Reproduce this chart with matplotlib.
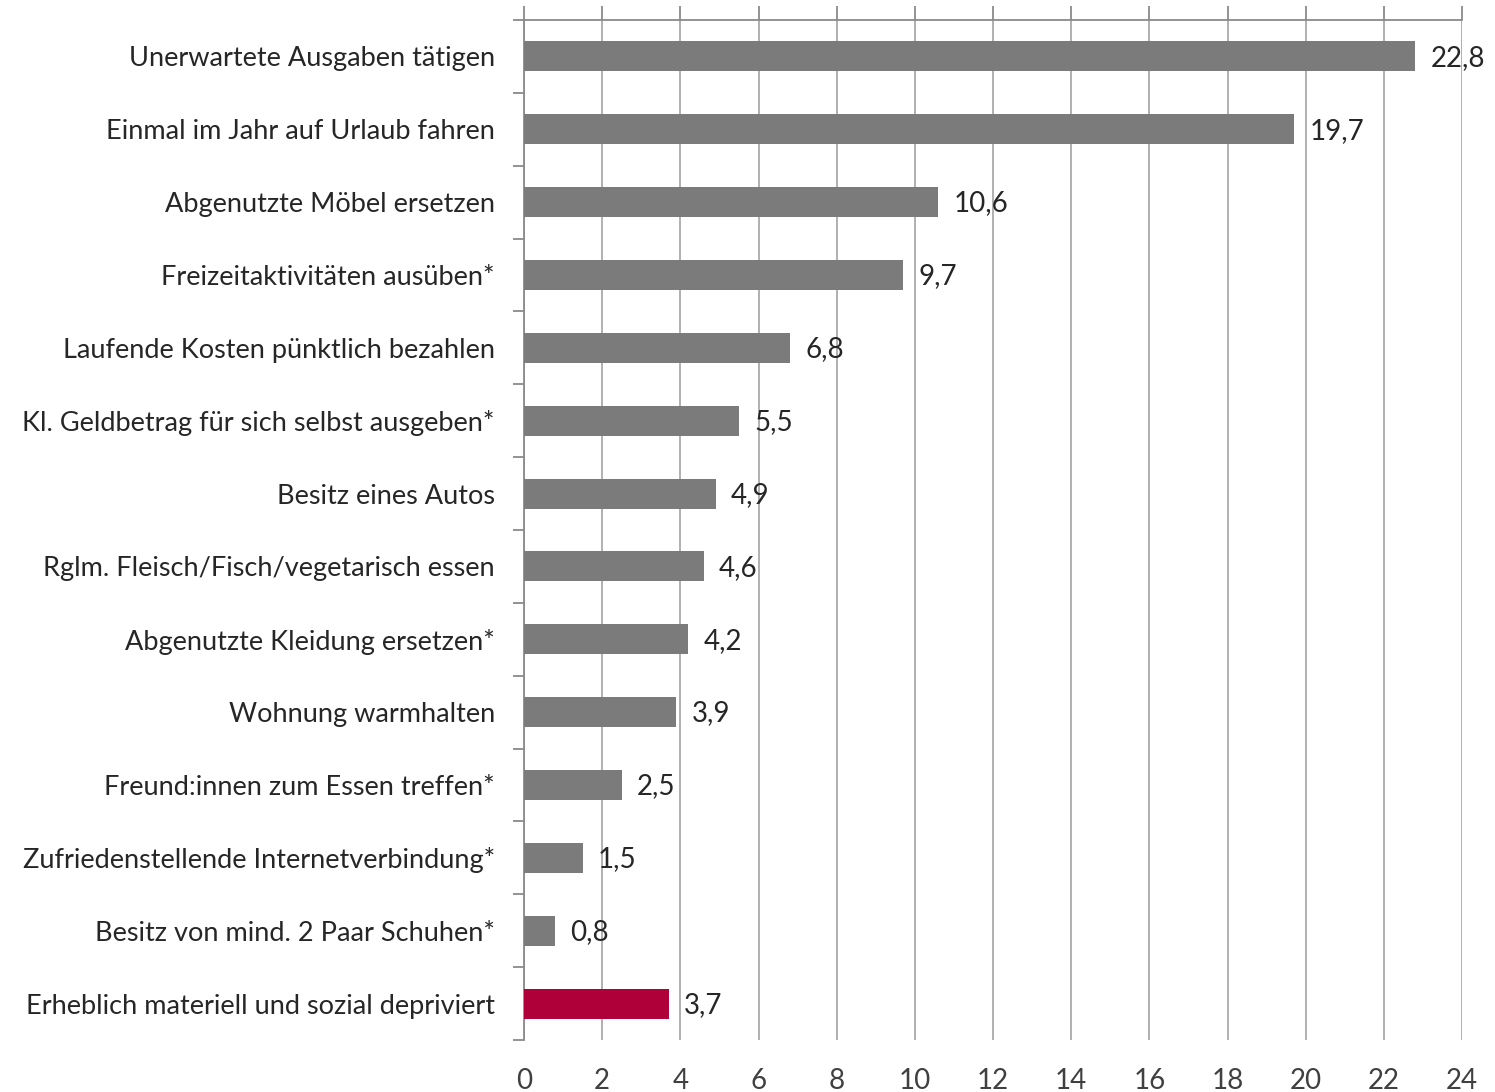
import matplotlib
matplotlib.use("Agg")
import matplotlib.pyplot as plt
import numpy as np

categories = [
    "Unerwartete Ausgaben tätigen",
    "Einmal im Jahr auf Urlaub fahren",
    "Abgenutzte Möbel ersetzen",
    "Freizeitaktivitäten ausüben*",
    "Laufende Kosten pünktlich bezahlen",
    "Kl. Geldbetrag für sich selbst ausgeben*",
    "Besitz eines Autos",
    "Rglm. Fleisch/Fisch/vegetarisch essen",
    "Abgenutzte Kleidung ersetzen*",
    "Wohnung warmhalten",
    "Freund:innen zum Essen treffen*",
    "Zufriedenstellende Internetverbindung*",
    "Besitz von mind. 2 Paar Schuhen*",
    "Erheblich materiell und sozial depriviert",
]
values = [22.8, 19.7, 10.6, 9.7, 6.8, 5.5, 4.9, 4.6, 4.2, 3.9, 2.5, 1.5, 0.8, 3.7]
x_ticks = [0, 2, 4, 6, 8, 10, 12, 14, 16, 18, 20, 22, 24]

plt.rcParams['font.family'] = ['Lato', 'DejaVu Sans']

fig = plt.figure(figsize=(14.95, 10.92), dpi=100)
ax = fig.add_axes([0.3505, 0.0476, 0.978 - 0.3505, 0.9817 - 0.0476])

n = len(categories)
y = np.arange(n)
colors = ['#7b7b7b'] * (n - 1) + ['#b0003a']
ax.barh(y, values, height=0.41, color=colors, zorder=3)

ax.set_ylim(n - 0.5, -0.5)
ax.set_xlim(0, 24)

for yi, v in zip(y, values):
    ax.annotate(f"{v:.1f}".replace('.', ','), xy=(v, yi), xytext=(11, -1),
                textcoords='offset points', va='center', ha='left',
                fontsize=20, color='#262626', zorder=4)

ax.set_yticks(y)
ax.set_yticklabels(categories, fontsize=19.5, color='#262626')
ax.tick_params(axis='y', which='major', length=0, pad=21)
ax.set_yticks(np.arange(-0.5, n, 1), minor=True)
ax.tick_params(axis='y', which='minor', length=8, width=1.3, color='#8a8a8a', direction='out')

ax.set_xticks(x_ticks)
ax.set_xticklabels([str(t) for t in x_ticks], fontsize=20, color='#404040')
ax.tick_params(axis='x', which='major', bottom=True, top=False, labelbottom=True,
               labeltop=False, length=0, pad=20)

ax.grid(axis='x', color='#aaaaaa', linewidth=1.3, zorder=0)
ax.grid(axis='y', visible=False)

for s in ['right', 'bottom']:
    ax.spines[s].set_visible(False)
for s in ['top', 'left']:
    ax.spines[s].set_color('#8a8a8a')
    ax.spines[s].set_linewidth(1.3)

# top tick marks
sec = ax.secondary_xaxis('top')
sec.set_xticks(x_ticks)
sec.tick_params(length=10, width=1.3, color='#8a8a8a', labeltop=False, direction='out')
sec.spines['top'].set_visible(False)

fig.savefig('out.png', dpi=100, facecolor='white')
